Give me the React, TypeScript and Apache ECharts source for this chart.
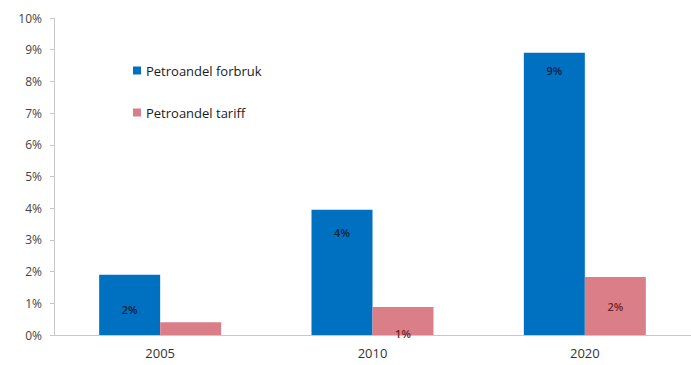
import React, { useEffect, useRef } from "react";
import * as echarts from "echarts";

const categories = ["2005", "2010", "2020"];
const forbruk = [1.9, 3.95, 8.9];
const tariff = [0.4, 0.88, 1.83];
const yTicks = { min: 0, max: 10, interval: 1 };

const FONT = "'Open Sans', 'Noto Sans', sans-serif";

export default function App() {
  const ref = useRef<HTMLDivElement>(null);
  useEffect(() => {
    if (!ref.current) return;
    const chart = echarts.init(ref.current, undefined, { renderer: "svg" });
    const blueLabelCfg = [
      { position: "inside", offset: [0, 5] },
      { position: "insideTop", offset: [0, 12] },
      { position: "insideTop", offset: [0, 7] },
    ];
    const pinkLabelCfg = [
      { show: false },
      { position: "insideBottom", offset: [0, 9] },
      { position: "inside", offset: [0, 1] },
    ];
    chart.setOption({
      animation: false,
      textStyle: { fontFamily: FONT },
      grid: { left: 54, right: 0, top: 18, bottom: 30, containLabel: false },
      legend: {
        orient: "vertical",
        left: 128,
        top: 59,
        itemWidth: 8,
        itemHeight: 8,
        itemGap: 29,
        icon: "rect",
        textStyle: { fontSize: 13, color: "#1a1a1a", fontWeight: 500, fontFamily: FONT },
        data: ["Petroandel forbruk", "Petroandel tariff"],
      },
      xAxis: {
        type: "category",
        data: categories,
        axisLine: { lineStyle: { color: "#c8c8c8" } },
        axisTick: { show: false },
        axisLabel: { fontSize: 13, color: "#333", margin: 11, fontFamily: FONT },
      },
      yAxis: {
        type: "value",
        min: yTicks.min,
        max: yTicks.max,
        interval: yTicks.interval,
        splitLine: { show: false },
        axisLine: { show: true, lineStyle: { color: "#c8c8c8" } },
        axisTick: { show: true, length: 4, lineStyle: { color: "#c8c8c8" } },
        axisLabel: {
          fontSize: 12,
          color: "#444",
          margin: 12,
          fontFamily: FONT,
          formatter: (v: number) => v + "%",
        },
      },
      series: [
        {
          name: "Petroandel forbruk",
          type: "bar",
          barWidth: 61,
          barGap: "0%",
          itemStyle: { color: "#0070C0" },
          data: forbruk.map((v, i) => ({
            value: v,
            label: {
              show: true,
              ...blueLabelCfg[i],
              color: "#14223d",
              fontSize: 11,
              fontWeight: 600,
              fontFamily: FONT,
              formatter: (p: any) => Math.round(p.value) + "%",
            },
          })),
        },
        {
          name: "Petroandel tariff",
          type: "bar",
          barWidth: 61,
          barGap: "0%",
          itemStyle: { color: "#DA7F87" },
          data: tariff.map((v, i) => ({
            value: v,
            label: {
              show: true,
              ...pinkLabelCfg[i],
              color: "#6e242c",
              fontSize: 11,
              fontWeight: 600,
              fontFamily: FONT,
              formatter: (p: any) => Math.round(p.value) + "%",
            },
          })),
        },
      ],
    });
    return () => chart.dispose();
  }, []);
  return (
    <div
      ref={ref}
      style={{ position: "absolute", left: 0, top: 0, width: 691, height: 365, background: "#fff" }}
    />
  );
}
